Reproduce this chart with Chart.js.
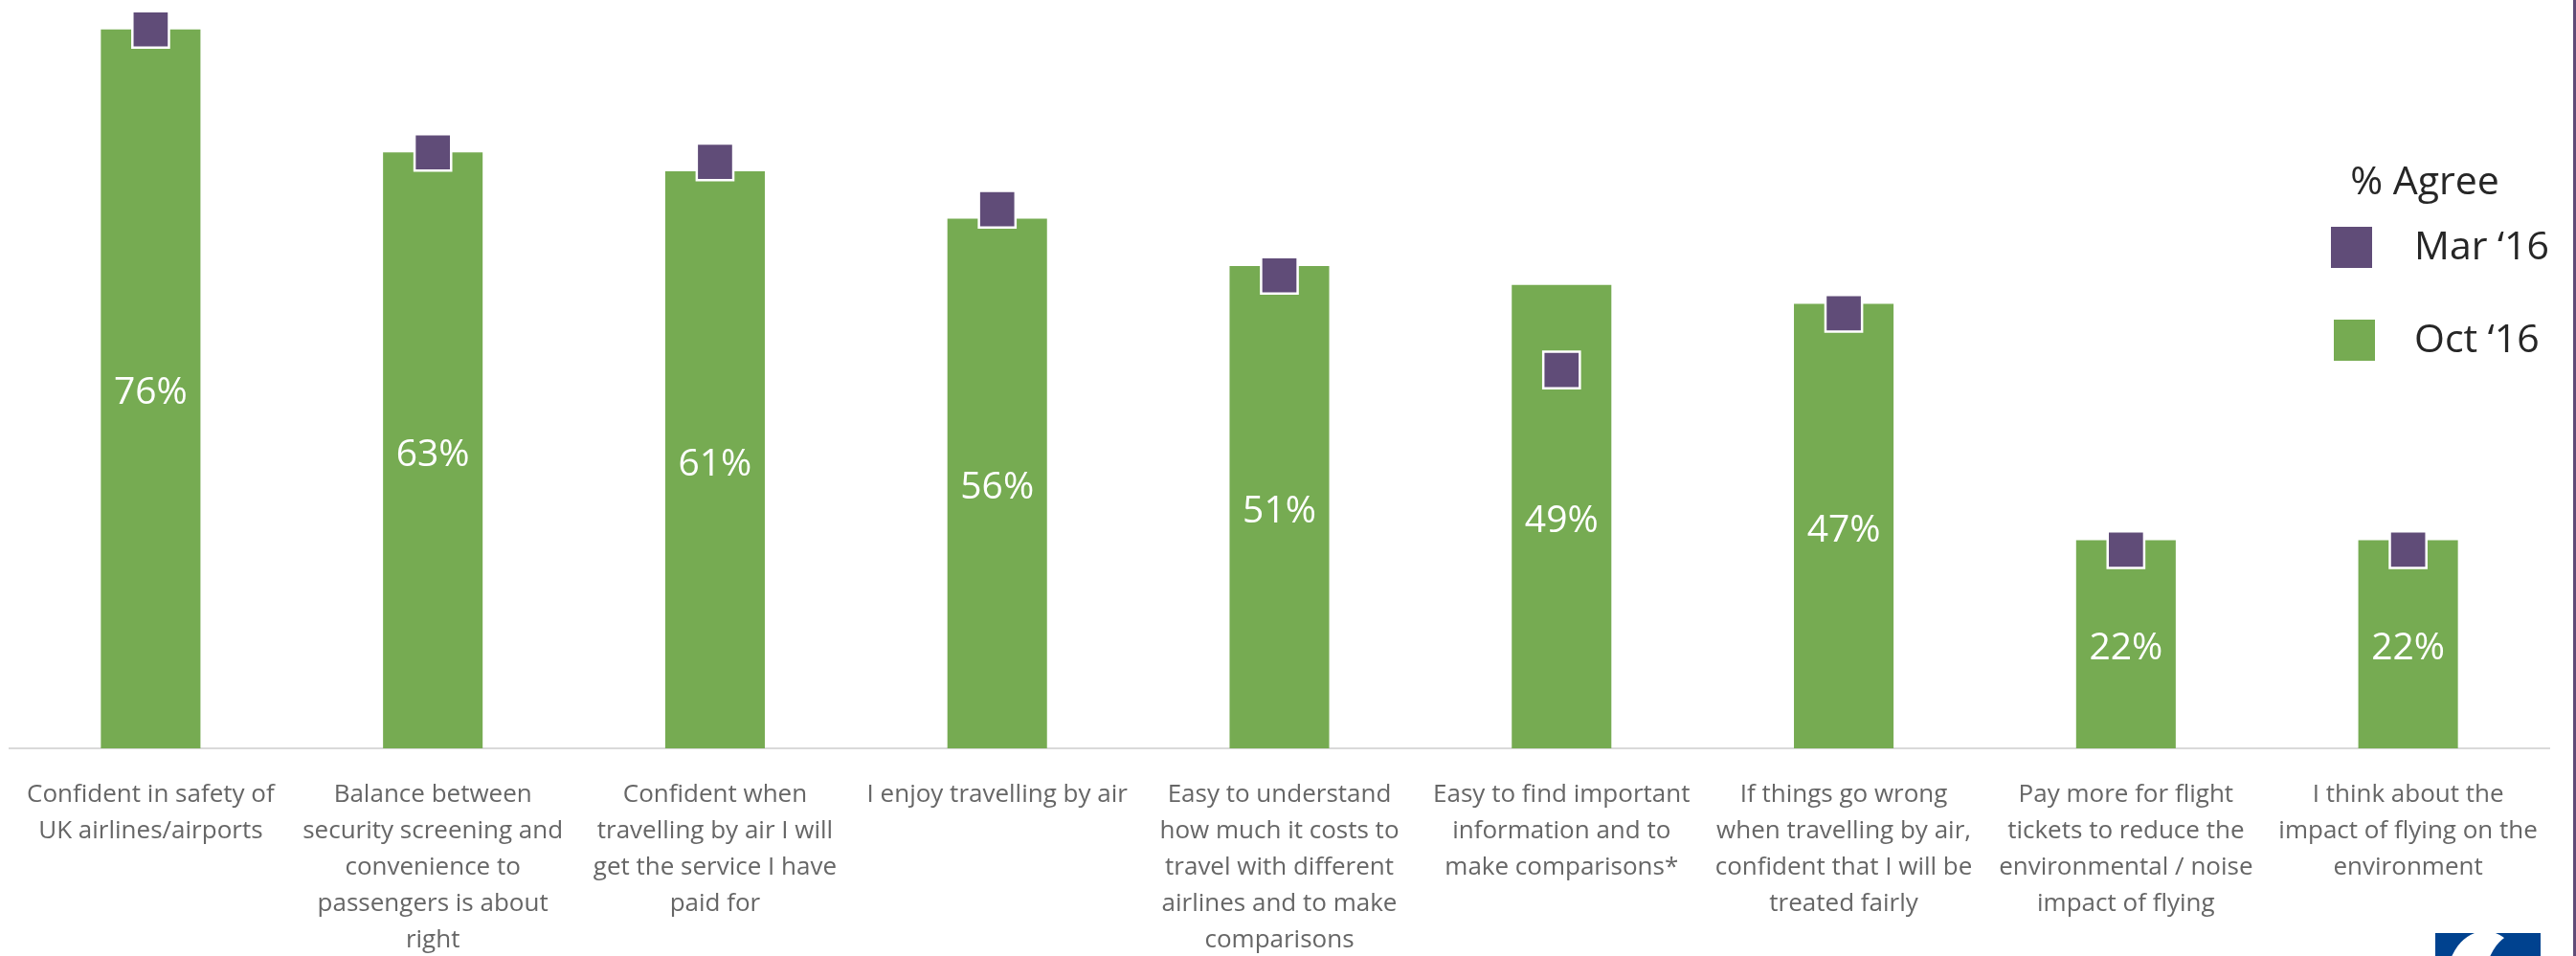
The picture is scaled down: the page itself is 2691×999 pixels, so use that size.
<!DOCTYPE html>
<html>
<head>
<meta charset="utf-8">
<title>% Agree</title>
<script src="https://cdn.jsdelivr.net/npm/chart.js@4.4.1/dist/chart.umd.min.js"></script>
<style>
  html, body { margin: 0; padding: 0; background: #fff; }
  #wrap { width: 2688px; height: 999px; border-right: 3px solid #604c78; }
</style>
</head>
<body>
<div id="wrap"><canvas id="agreeChart"></canvas></div>
<script>
// Attitudes to air travel, % agree
var CATEGORIES = [
  ['Confident in safety of', 'UK airlines/airports'],
  ['Balance between', 'security screening and', 'convenience to', 'passengers is about', 'right'],
  ['Confident when', 'travelling by air I will', 'get the service I have', 'paid for'],
  ['I enjoy travelling by air'],
  ['Easy to understand', 'how much it costs to', 'travel with different', 'airlines and to make', 'comparisons'],
  ['Easy to find important', 'information and to', 'make comparisons*'],
  ['If things go wrong', 'when travelling by air,', 'confident that I will be', 'treated fairly'],
  ['Pay more for flight', 'tickets to reduce the', 'environmental / noise', 'impact of flying'],
  ['I think about the', 'impact of flying on the', 'environment']
];
var MAR_16 = [76, 63, 62, 57, 50, 40, 46, 21, 21];
var OCT_16 = [76, 63, 61, 56, 51, 49, 47, 22, 22];
var SERIES_NAMES = ['Mar \u201816', 'Oct \u201816'];
var LEGEND_TITLE = '% Agree';

var PURPLE = '#604c78';
var GREEN = '#76ab52';
var FONT = '"Open Sans", "Noto Sans", sans-serif';

// white % labels in the middle of each bar
var barLabels = {
  id: 'barLabels',
  afterDatasetsDraw: function(chart) {
    var meta = chart.getDatasetMeta(1);
    var ctx = chart.ctx;
    ctx.save();
    ctx.font = '39px ' + FONT;
    ctx.fillStyle = '#fff';
    ctx.textAlign = 'center';
    ctx.textBaseline = 'middle';
    meta.data.forEach(function(bar, i) {
      ctx.fillText(OCT_16[i] + '%', bar.x, (bar.y + bar.base) / 2 + 5);
    });
    ctx.restore();
  }
};

// legend block on the right, plus the corner logo
var sideLegend = {
  id: 'sideLegend',
  afterDraw: function(chart) {
    var ctx = chart.ctx;
    var r = chart.chartArea.right;
    var colors = [PURPLE, GREEN];
    var rows = [259, 356];
    ctx.save();
    ctx.fillStyle = '#262626';
    ctx.font = '41px ' + FONT;
    ctx.textAlign = 'center';
    ctx.textBaseline = 'middle';
    ctx.fillText(LEGEND_TITLE, r - 130, 191);
    ctx.textAlign = 'left';
    SERIES_NAMES.forEach(function(name, i) {
      ctx.fillStyle = colors[i];
      ctx.fillRect(r - 228 + i * 3, rows[i] - 22, 43, 43);
      ctx.fillStyle = '#262626';
      ctx.fillText(name, r - 141, rows[i]);
    });

    var lx = chart.width - 144, ly = chart.height - 24;
    ctx.beginPath();
    ctx.rect(lx, ly, 110, 24);
    ctx.clip();
    ctx.fillStyle = '#00428f';
    ctx.fillRect(lx, ly, 110, 24);
    ctx.fillStyle = '#fff';
    ctx.beginPath();
    ctx.ellipse(lx + 52, ly + 50, 40, 52, 0, 0, Math.PI * 2);
    ctx.fill();
    ctx.fillStyle = '#00428f';
    ctx.beginPath();
    ctx.ellipse(lx + 92, ly + 50, 40, 52, 0, 0, Math.PI * 2);
    ctx.fill();
    ctx.restore();
  }
};

function initAgreeChart() {
  var ctx = document.getElementById('agreeChart');
  if (!ctx) return;

  new Chart(ctx, {
    type: 'bar',
    data: {
      labels: CATEGORIES,
      datasets: [
        {
          type: 'line',
          label: SERIES_NAMES[0],
          data: MAR_16,
          showLine: false,
          pointStyle: 'rect',
          pointRadius: 27,
          pointHoverRadius: 27,
          pointBackgroundColor: PURPLE,
          pointBorderColor: '#fff',
          pointBorderWidth: 2.5,
          order: 0
        },
        {
          label: SERIES_NAMES[1],
          data: OCT_16,
          backgroundColor: GREEN,
          barPercentage: 0.353,
          categoryPercentage: 1,
          order: 1
        }
      ]
    },
    options: {
      responsive: true,
      maintainAspectRatio: false,
      animation: false,
      layout: { autoPadding: false, padding: { left: 10, right: 25, top: 11, bottom: 0 } },
      scales: {
        x: {
          grid: { display: false },
          border: { display: true, color: '#d9d9d9', width: 2 },
          ticks: {
            color: '#666',
            padding: 22,
            maxRotation: 0,
            autoSkip: false,
            font: { family: FONT, size: 26, lineHeight: 1.46 }
          },
          afterFit: function(scale) {
            // labels may spill past the edges; keep the plot width fixed
            scale.height = 217;
            scale.paddingLeft = 0;
            scale.paddingRight = 0;
          }
        },
        y: { display: false, min: 0, max: 78 }
      },
      plugins: {
        legend: { display: false },
        tooltip: { enabled: false }
      }
    },
    plugins: [barLabels, sideLegend]
  });
}

initAgreeChart();
</script>
</body>
</html>
